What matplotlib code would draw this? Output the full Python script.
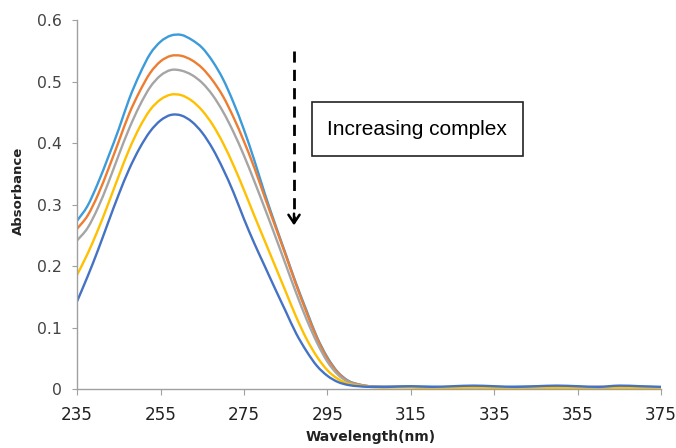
import numpy as np
import matplotlib
matplotlib.use('Agg')
from matplotlib import pyplot as plt
from matplotlib.patches import Rectangle, PathPatch
from matplotlib.path import Path

# wavelength grid (nm): 2.5 nm steps over the band, 5 nm steps on the flat tail
wavelength = np.concatenate([np.arange(235, 310.1, 2.5), np.arange(315, 375.1, 5)])

# absorbance, one series per titration step (top -> bottom)
abs_1 = [0.274, 0.298, 0.335, 0.378, 0.423, 0.472, 0.512, 0.545, 0.565, 0.575,
         0.576, 0.568, 0.555, 0.533, 0.504, 0.466, 0.422, 0.372, 0.318, 0.268,
         0.220, 0.172, 0.128, 0.085, 0.052, 0.028, 0.014, 0.008, 0.005, 0.004,
         0.004,
         0.004, 0.004, 0.003, 0.004, 0.003, 0.004, 0.004, 0.003, 0.004, 0.003,
         0.003, 0.004, 0.003]
abs_2 = [0.261, 0.282, 0.316, 0.358, 0.403, 0.448, 0.484, 0.514, 0.533, 0.542,
         0.542, 0.535, 0.522, 0.502, 0.476, 0.442, 0.403, 0.360, 0.312, 0.265,
         0.218, 0.170, 0.125, 0.083, 0.050, 0.027, 0.013, 0.008, 0.005, 0.004,
         0.004,
         0.004, 0.003, 0.003, 0.004, 0.003, 0.003, 0.004, 0.003, 0.003, 0.004,
         0.003, 0.003, 0.003]
abs_3 = [0.242, 0.262, 0.295, 0.336, 0.381, 0.424, 0.461, 0.491, 0.510, 0.519,
         0.518, 0.511, 0.498, 0.478, 0.451, 0.418, 0.380, 0.338, 0.294, 0.249,
         0.203, 0.157, 0.114, 0.076, 0.045, 0.024, 0.012, 0.007, 0.005, 0.004,
         0.004,
         0.004, 0.003, 0.003, 0.003, 0.004, 0.003, 0.003, 0.004, 0.003, 0.003,
         0.004, 0.003, 0.003]
abs_4 = [0.186, 0.220, 0.259, 0.302, 0.347, 0.390, 0.426, 0.454, 0.471, 0.479,
         0.478, 0.469, 0.453, 0.430, 0.400, 0.364, 0.324, 0.282, 0.241, 0.200,
         0.159, 0.118, 0.082, 0.053, 0.031, 0.017, 0.009, 0.006, 0.004, 0.003,
         0.003,
         0.003, 0.002, 0.002, 0.003, 0.002, 0.002, 0.003, 0.002, 0.002, 0.003,
         0.002, 0.002, 0.002]
abs_5 = [0.143, 0.183, 0.226, 0.272, 0.317, 0.358, 0.392, 0.419, 0.437, 0.446,
         0.445, 0.435, 0.417, 0.391, 0.358, 0.320, 0.277, 0.237, 0.200, 0.163,
         0.127, 0.091, 0.062, 0.038, 0.022, 0.012, 0.007, 0.005, 0.004, 0.004,
         0.004,
         0.005, 0.004, 0.005, 0.006, 0.005, 0.004, 0.005, 0.006, 0.005, 0.004,
         0.006, 0.005, 0.004]

series = [abs_1, abs_2, abs_3, abs_4, abs_5]
colors = ['#3C9BDB', '#ED7D31', '#A5A5A5', '#FFC000', '#4472C4']

x_ticks = [235, 255, 275, 295, 315, 335, 355, 375]
y_ticks = [0, 0.1, 0.2, 0.3, 0.4, 0.5, 0.6]
y_tick_labels = ['0', '0.1', '0.2', '0.3', '0.4', '0.5', '0.6']


def smooth_path(x, y):
    # excel style "smoothed line": catmull-rom segments as cubic beziers
    p = np.column_stack([x, y]).astype(float)
    n = len(p)
    verts = [p[0]]
    codes = [Path.MOVETO]
    for i in range(n - 1):
        p0 = p[max(i - 1, 0)]
        p1 = p[i]
        p2 = p[i + 1]
        p3 = p[min(i + 2, n - 1)]
        c1 = p1 + (p2 - p0) / 6.0
        c2 = p2 - (p3 - p1) / 6.0
        verts += [c1, c2, p2]
        codes += [Path.CURVE4] * 3
    return Path(verts, codes)


fig = plt.figure(figsize=(6.76, 4.48), dpi=100)
ax = fig.add_axes([0.114, 0.131, 0.864, 0.824])

for y, c in zip(series, colors):
    ax.add_patch(PathPatch(smooth_path(wavelength, y), fill=False,
                           edgecolor=c, lw=1.7, capstyle='round'))

ax.set_xlim(235, 375)
ax.set_ylim(0, 0.6)
ax.set_xticks(x_ticks)
ax.set_xticklabels([str(t) for t in x_ticks], fontsize=12.2, color='#222222')
ax.set_yticks(y_ticks)
ax.set_yticklabels(y_tick_labels, fontsize=11.3, color='#444444')
ax.tick_params(axis='x', direction='out', length=4.3, color='#A0A0A0', pad=7.5)
ax.tick_params(axis='y', direction='out', length=3.6, color='#A0A0A0', pad=7)

for s in ['top', 'right']:
    ax.spines[s].set_visible(False)
for s in ['left', 'bottom']:
    ax.spines[s].set_color('#A0A0A0')
    ax.spines[s].set_linewidth(1.0)

fig.text(0.503 * 0.864 + 0.114, 0.025, 'Wavelength(nm)', ha='center', va='center',
         fontsize=10, fontweight='bold', color='#222222')
fig.text(0.027, 0.575, 'Absorbance', ha='center', va='center', rotation=90,
         fontsize=9.5, fontweight='bold', color='#222222')

# dashed arrow + text box annotation
ax.plot([287, 287], [0.55, 0.272], color='black', lw=2, ls=(0, (4, 2.6)))
ax.annotate('', xy=(287, 0.262), xytext=(287, 0.29),
            arrowprops=dict(arrowstyle='->,head_length=0.6,head_width=0.4',
                            color='black', lw=1.8))
ax.add_patch(Rectangle((291.3, 0.379), 50.5, 0.0876, fill=False,
                       edgecolor='#222222', lw=1.2))
ax.text(316.5, 0.4226, 'Increasing complex', ha='center', va='center',
        fontsize=15, family='Liberation Sans', color='black')

fig.savefig('out.png', dpi=100)
